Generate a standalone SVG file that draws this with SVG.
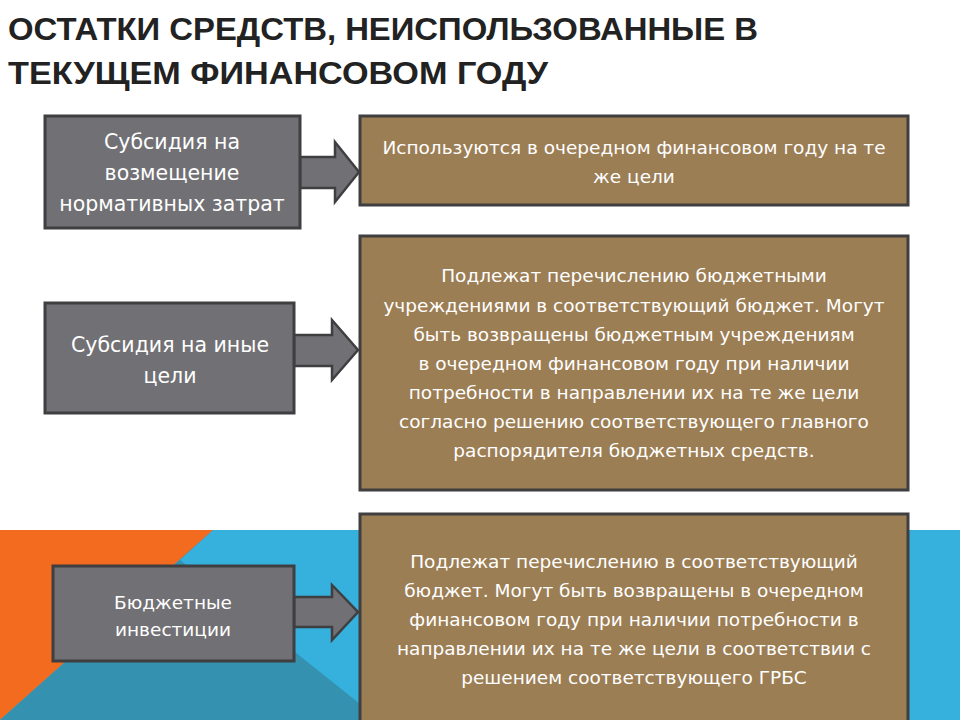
<svg xmlns="http://www.w3.org/2000/svg" width="960" height="720" viewBox="0 0 960 720">
<style>
.l{fill:#717074;stroke:#3f3f41;stroke-width:3}
.r{fill:#9c7e55;stroke:#3f3f41;stroke-width:3}
.a{fill:#717074;stroke:#3f3f41;stroke-width:2.5;stroke-linejoin:miter}
text{font-family:"DejaVu Sans","Liberation Sans",Arial,sans-serif;fill:#fff;text-anchor:middle}
.s{font-size:18.5px}
.t{font-size:20.5px}
.h{font-family:"Liberation Sans",Arial,sans-serif;font-size:32px;font-weight:bold;fill:#222;text-anchor:start}
</style>
<rect width="960" height="720" fill="#fff"/>
<g id="background">
<rect x="0" y="530" width="960" height="190" fill="#36b0dd"/>
<polygon points="0,530 213,530 0,720" fill="#f26b1f"/>
<polygon points="213,530 0,720 380,720 180,560" fill="#3491b0"/>
</g>
<g id="title"><text class="h" x="8" y="40" textLength="750" lengthAdjust="spacingAndGlyphs">ОСТАТКИ СРЕДСТВ, НЕИСПОЛЬЗОВАННЫЕ В</text>
<text class="h" x="8" y="84" textLength="540" lengthAdjust="spacingAndGlyphs">ТЕКУЩЕМ ФИНАНСОВОМ ГОДУ</text></g>
<g id="connectors">
<polygon class="a" points="300,157 335,157 335,142 359,172 335,202 335,188 300,188"/>
<polygon class="a" points="294,335 332,335 332,320 358,350 332,380 332,366 294,366"/>
<polygon class="a" points="294,597 332,597 332,585 358,612 332,640 332,627 294,627"/>
</g>
<g id="n1"><rect class="l" x="45" y="116" width="255" height="112"/>
<text class="t" x="172" y="149">Субсидия на</text><text class="t" x="172" y="180">возмещение</text><text class="t" x="172" y="211">нормативных затрат</text></g>
<g id="n2"><rect class="l" x="45" y="303" width="249" height="110"/>
<text class="t" x="170" y="352">Субсидия на иные</text><text class="t" x="170" y="383">цели</text></g>
<g id="n3"><rect class="l" x="53" y="566" width="241" height="95"/>
<text class="s" x="173" y="609">Бюджетные</text><text class="s" x="173" y="636">инвестиции</text></g>
<g id="r1"><rect class="r" x="360" y="116" width="548" height="89"/>
<text class="s" x="634" y="154">Используются в очередном финансовом году на те</text><text class="s" x="634" y="183">же цели</text></g>
<g id="r2"><rect class="r" x="360" y="236" width="548" height="254"/>
<text class="s" x="634" y="282">Подлежат перечислению бюджетными</text>
<text class="s" x="634" y="312">учреждениями в соответствующий бюджет. Могут</text>
<text class="s" x="634" y="341">быть возвращены бюджетным учреждениям</text>
<text class="s" x="634" y="370">в очередном финансовом году при наличии</text>
<text class="s" x="634" y="399">потребности в направлении их на те же цели</text>
<text class="s" x="634" y="428">согласно решению соответствующего главного</text>
<text class="s" x="634" y="457">распорядителя бюджетных средств.</text></g>
<g id="r3"><rect class="r" x="360" y="514" width="548" height="215"/>
<text class="s" x="634" y="568">Подлежат перечислению в соответствующий</text>
<text class="s" x="634" y="597">бюджет. Могут быть возвращены в очередном</text>
<text class="s" x="634" y="626">финансовом году при наличии потребности в</text>
<text class="s" x="634" y="655">направлении их на те же цели в соответствии с</text>
<text class="s" x="634" y="684">решением соответствующего ГРБС</text></g>
</svg>
